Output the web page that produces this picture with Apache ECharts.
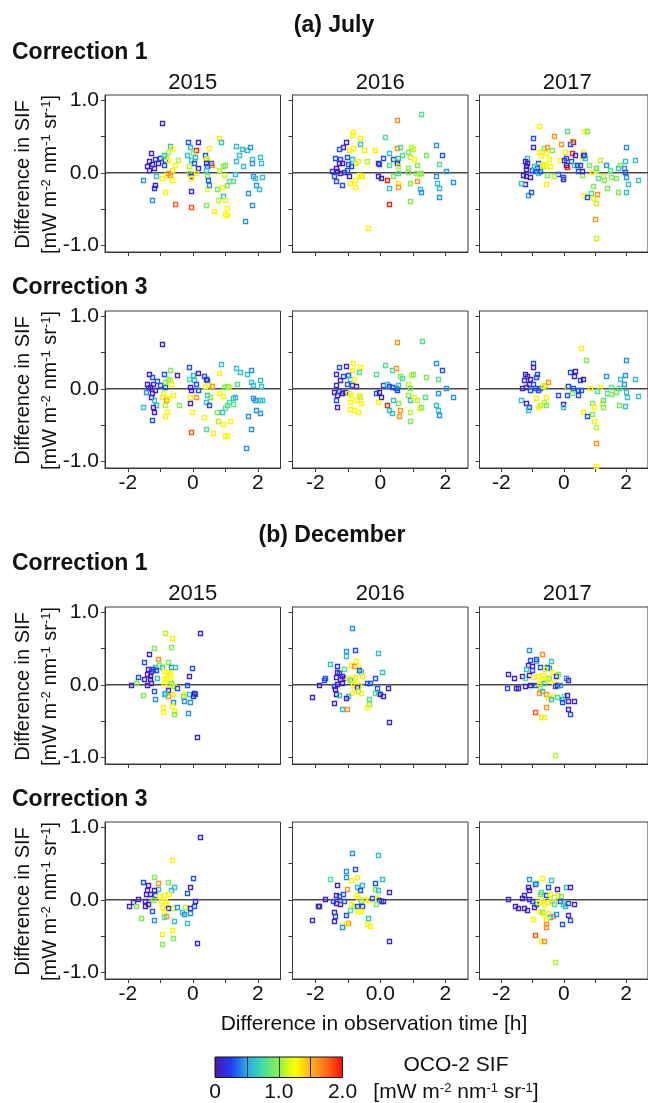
<!DOCTYPE html>
<html>
<head>
<meta charset="utf-8">
<script src="https://cdn.jsdelivr.net/npm/echarts@6/dist/echarts.min.js"></script>
<style>
  html, body { margin: 0; padding: 0; background: #fff; }
  #chart { width: 648px; height: 1103px; }
</style>
</head>
<body>
<div id="chart"></div>
<script>
// ---- labels and axis settings ----
const months = ['(a) July', '(b) December'];
const corrections = ['Correction 1', 'Correction 3'];
const years = ['2015', '2016', '2017'];
const xRange = [-2.7, 2.7];
const yRange = [-1.09, 1.07];
const xTickValues = [-2, -1, 0, 1, 2];
const xLabelValues = [-2, 0, 2];
const xTickLabels = ['-2', '0', '2'];
const xTickLabelsDecC3_2016 = ['-2', '0.0', '2'];
const yTickValues = [-1, -0.5, 0, 0.5, 1];
const yLabelValues = [-1, 0, 1];
const sifRange = [0, 2];
const sifColors = ['#5414ac', '#1e3cf0', '#28a8e6', '#40dcaa', '#90f040', '#ffff00', '#ffb020', '#ff6a18', '#ff0a00'];
const yTitle = 'Difference in SIF\n[mW m{s|-2} nm{s|-1} sr{s|-1}]';
const xTitle = 'Difference in observation time [h]';
const cbarTitle = 'OCO-2 SIF';
const cbarUnit = '[mW m{s|-2} nm{s|-1} sr{s|-1}]';

// ---- points: [time difference (h), SIF difference, OCO-2 SIF] ----
const julyC1_2015 = [[-0.94,0.69,0.08],[-1.29,0.27,0.08],[-1.34,0.16,0.08],[-1.41,0.09,0.08],[-1.25,0.12,0.08],[-1.16,0.19,0.18],[-1.06,0.13,0.08],[-1.19,0.06,0.08],[-1.36,0.04,0.08],[-1.0,0.20,0.3],[-0.88,0.11,0.3],[-0.84,0.18,0.3],[-1.54,-0.10,0.45],[-1.16,-0.17,0.08],[-1.19,-0.21,0.18],[-1.25,-0.37,0.45],[-1.13,-0.05,0.62],[-0.71,0.37,0.62],[-0.76,0.29,1.1],[-0.65,0.34,1.28],[-0.81,0.22,1.1],[-0.88,0.25,0.62],[-0.75,0.18,1.28],[-0.56,0.11,1.28],[-0.44,0.18,1.1],[-0.63,0.04,1.28],[-0.81,-0.03,1.28],[-0.75,0.0,1.6],[-0.69,-0.03,1.6],[-0.96,-0.07,1.28],[-0.63,-0.10,1.28],[-0.84,-0.26,1.28],[-0.54,-0.43,1.8],[-0.16,0.43,0.3],[0.16,0.42,0.08],[-0.09,0.36,0.62],[0.10,0.32,1.95],[0.0,0.27,0.95],[-0.19,0.25,0.62],[0.06,0.22,0.62],[-0.04,0.18,0.62],[0.04,0.13,0.3],[0.16,0.06,0.18],[-0.13,0.09,1.1],[-0.13,0.0,0.95],[-0.04,-0.05,0.08],[-0.06,-0.07,1.28],[-0.06,-0.25,0.18],[-0.04,-0.47,1.8],[0.11,0.0,1.28],[0.38,0.25,0.3],[0.41,0.20,0.95],[0.44,0.19,1.28],[0.5,0.34,1.28],[0.41,0.13,0.08],[0.56,0.13,0.3],[0.59,0.11,1.6],[0.44,0.09,0.3],[0.41,0.04,0.62],[0.44,-0.05,0.95],[0.44,-0.22,1.28],[0.5,-0.17,0.45],[0.46,-0.10,0.3],[0.4,-0.45,0.95],[0.65,-0.52,1.28],[0.81,0.48,1.28],[0.88,0.43,0.62],[1.0,0.11,0.95],[0.94,0.09,0.95],[0.81,0.04,1.1],[0.96,-0.03,1.1],[0.91,-0.19,1.28],[1.04,-0.17,0.95],[0.75,-0.23,0.95],[0.94,-0.32,0.62],[0.78,-0.37,1.1],[0.98,-0.38,1.28],[1.06,-0.49,1.28],[1.0,-0.57,1.28],[1.06,-0.58,1.28],[1.1,-0.12,0.8],[1.25,-0.12,0.8],[1.34,0.37,0.62],[1.34,0.16,0.62],[1.29,-0.01,0.62],[1.5,0.33,0.62],[1.56,0.09,0.62],[1.66,0.31,0.62],[1.76,0.36,0.45],[1.81,0.19,0.62],[1.84,-0.05,0.45],[1.91,-0.07,0.62],[1.69,-0.28,0.45],[1.81,-0.45,0.45],[1.61,-0.66,0.45],[1.81,0.13,0.45],[1.94,-0.17,0.45],[2.06,0.22,0.62],[2.09,0.13,0.62],[2.04,-0.22,0.62],[2.13,-0.06,0.62],[1.41,0.25,0.62]];
const julyC1_2016 = [[1.26,0.81,0.8],[0.5,0.72,1.6],[-0.85,0.56,1.28],[-0.87,0.52,1.28],[-0.62,0.48,1.28],[-1.06,0.42,0.08],[-1.15,0.36,0.08],[-0.62,0.39,0.62],[0.51,0.34,1.6],[0.15,0.49,0.8],[0.6,0.36,0.8],[0.96,0.36,1.1],[1.01,0.33,1.1],[1.71,0.38,0.45],[-1.28,0.33,0.3],[-0.96,0.32,1.28],[-0.83,0.34,1.28],[-0.49,0.32,1.28],[-0.17,0.32,1.28],[1.41,0.24,0.95],[1.91,0.24,0.3],[0.28,0.27,0.62],[0.67,0.25,0.8],[0.86,0.29,0.95],[0.92,0.22,1.1],[1.05,0.19,1.28],[0.09,0.21,0.3],[0.38,0.19,0.3],[0.54,0.20,0.62],[0.47,0.16,0.95],[0.51,0.14,0.08],[-0.08,0.13,0.08],[-0.04,0.12,0.3],[0.28,0.11,0.8],[0.56,0.09,1.1],[0.86,0.06,0.95],[1.13,0.11,0.95],[1.81,0.12,0.8],[2.03,0.03,0.45],[-1.38,0.20,0.3],[-1.23,0.19,0.3],[-1.03,0.22,0.3],[-0.87,0.19,0.62],[-0.78,0.14,1.1],[-0.68,0.16,1.28],[-0.42,0.16,1.1],[-1.28,0.13,0.08],[-1.18,0.14,0.08],[-1.0,0.12,0.3],[-0.9,0.09,0.3],[-1.36,0.06,0.08],[-1.49,0.03,0.08],[-1.32,0.02,0.08],[-1.23,-0.005,0.08],[-1.13,0.005,0.18],[-1.03,0.04,0.3],[-1.41,-0.05,0.3],[-1.36,-0.12,0.3],[-1.19,-0.17,0.3],[-0.97,-0.05,0.08],[-0.79,-0.10,1.28],[-0.64,-0.03,1.28],[-0.59,-0.05,1.1],[-0.94,-0.14,1.28],[-0.77,-0.19,1.28],[-0.55,-0.05,1.28],[-0.08,-0.04,0.08],[0.03,-0.07,0.08],[0.22,-0.10,1.95],[0.38,-0.04,0.95],[0.54,-0.005,0.8],[0.86,0.005,0.95],[1.09,-0.005,0.95],[1.18,-0.01,1.1],[1.24,-0.005,0.95],[0.28,-0.21,0.62],[0.54,-0.14,1.28],[0.56,-0.20,1.6],[0.9,-0.14,0.95],[1.12,-0.12,1.6],[1.22,-0.23,0.62],[1.24,-0.26,0.45],[1.76,-0.14,0.62],[1.82,-0.21,0.62],[1.82,-0.33,0.45],[2.24,-0.13,0.45],[0.26,-0.43,1.95],[0.92,-0.39,0.95],[-0.38,-0.76,1.28],[1.73,-0.05,0.45]];
const julyC1_2017 = [[-0.78,0.65,1.28],[-0.99,0.48,0.3],[-0.99,0.36,0.08],[-1.17,0.21,0.62],[-1.24,0.16,0.08],[-1.17,0.13,0.08],[-1.22,0.09,0.08],[-1.2,0.05,0.08],[-1.32,-0.03,0.08],[-1.22,-0.05,0.08],[-1.09,-0.06,0.08],[-1.24,-0.16,0.08],[-1.37,-0.14,0.62],[-1.14,-0.30,0.45],[-1.06,-0.26,0.3],[-1.02,0.04,0.3],[-0.93,0.02,0.3],[-0.86,0.06,0.3],[-0.81,-0.005,0.62],[-0.76,0.03,0.3],[-0.83,0.13,0.3],[-0.96,0.09,0.62],[-0.71,0.11,1.28],[-0.66,0.09,1.1],[-0.61,0.12,1.28],[-0.78,0.29,1.28],[-0.69,0.29,1.28],[-0.62,0.34,0.95],[-0.58,0.27,1.28],[-0.73,0.25,1.28],[-0.53,0.36,1.6],[-0.48,0.19,1.28],[-0.43,0.09,1.28],[-0.55,-0.03,0.95],[-0.58,-0.16,1.28],[-0.37,0.32,0.95],[-0.30,0.51,1.6],[0.11,0.57,0.8],[-0.09,0.40,1.6],[0.2,0.39,0.3],[0.3,0.42,0.08],[0.28,0.44,1.6],[0.03,0.28,1.28],[-0.11,0.17,1.28],[0.0,0.17,0.08],[0.06,0.2,0.3],[0.11,0.08,1.95],[0.08,0.11,0.08],[0.22,0.16,0.3],[0.32,0.11,0.62],[0.28,0.27,1.95],[0.37,0.25,0.08],[0.42,0.11,0.3],[0.52,0.11,0.3],[0.57,0.22,1.28],[0.61,0.29,1.28],[0.65,0.25,0.08],[0.68,0.2,0.62],[0.63,0.25,0.3],[0.65,0.58,1.28],[0.73,0.57,0.95],[-0.17,-0.01,0.3],[-0.02,-0.09,0.08],[-0.02,-0.06,0.3],[-0.32,-0.04,1.1],[0.45,0.03,0.3],[0.6,-0.03,0.95],[0.59,0.02,0.08],[0.81,0.11,0.95],[0.91,0.01,1.28],[1.02,0.04,1.28],[1.04,0.07,0.8],[1.17,0.17,1.1],[1.09,-0.07,0.8],[1.26,-0.04,1.1],[1.29,-0.10,0.95],[1.34,0.11,0.45],[1.47,0.04,0.8],[1.52,-0.06,0.95],[1.66,-0.07,0.95],[1.75,0.06,0.62],[1.81,0.11,0.95],[1.96,0.16,0.62],[1.94,0.07,0.45],[1.96,0.005,0.3],[2.01,-0.06,0.45],[2.06,-0.15,0.62],[2.01,0.35,0.45],[2.27,0.18,0.62],[2.39,-0.10,0.62],[0.93,-0.18,0.95],[0.87,-0.28,0.8],[0.66,-0.30,1.28],[0.75,-0.33,0.3],[0.95,-0.35,1.28],[1.07,-0.29,1.6],[1.02,-0.42,1.1],[1.01,-0.63,1.6],[1.02,-0.90,1.1],[1.39,-0.21,0.95],[1.74,-0.26,0.95],[1.98,-0.26,0.62]];
const julyC3_2015 = [[-0.94,0.61,0.08],[-1.34,0.20,0.08],[-1.24,0.16,0.3],[-1.41,0.07,0.08],[-1.31,0.03,0.08],[-1.21,0.06,0.08],[-1.38,0.005,0.08],[-1.16,-0.02,0.08],[-1.25,-0.06,0.08],[-1.44,-0.04,0.45],[-1.09,0.11,0.3],[-1.0,0.05,0.3],[-0.9,0.21,0.3],[-0.85,0.02,0.3],[-1.29,-0.11,0.08],[-1.19,-0.16,0.62],[-1.13,-0.22,0.62],[-1.19,-0.32,0.08],[-1.21,-0.25,0.08],[-1.54,-0.25,0.62],[-1.25,-0.43,0.3],[-0.71,0.26,0.95],[-0.75,0.14,0.95],[-0.69,0.12,1.1],[-0.84,0.10,0.95],[-0.66,0.06,1.28],[-0.5,0.19,0.08],[-0.91,-0.06,1.28],[-0.96,-0.11,1.28],[-0.81,-0.16,1.6],[-0.75,-0.13,1.28],[-0.61,-0.08,1.28],[-0.84,-0.23,1.1],[-0.41,-0.22,0.95],[-0.78,-0.32,1.28],[-0.86,-0.37,1.28],[-0.13,0.30,0.3],[-0.13,0.14,0.8],[0.0,0.19,0.62],[0.04,0.12,0.62],[0.16,0.22,0.08],[0.1,0.07,0.3],[-0.09,0.03,0.08],[-0.04,-0.02,0.08],[0.16,-0.02,0.3],[0.1,-0.12,1.6],[-0.09,-0.11,1.28],[-0.09,-0.19,0.08],[-0.03,-0.32,1.28],[-0.04,-0.59,1.8],[0.35,0.17,0.3],[0.41,0.14,0.08],[0.44,0.12,0.3],[0.38,0.04,1.28],[0.5,0.05,1.28],[0.59,0.04,1.6],[0.44,-0.09,0.62],[0.54,-0.11,0.95],[0.41,-0.18,0.62],[0.5,-0.23,0.3],[0.35,-0.39,1.28],[0.4,-0.56,0.8],[0.63,-0.61,1.28],[0.81,0.22,1.28],[0.88,0.34,0.62],[0.96,0.03,0.95],[1.06,0.04,0.95],[1.1,0.03,1.1],[0.94,-0.10,1.28],[0.81,-0.06,1.28],[0.75,-0.32,0.95],[0.79,-0.45,1.1],[0.94,-0.49,1.28],[0.9,-0.32,0.62],[1.0,-0.26,0.8],[1.04,-0.23,0.8],[1.13,-0.18,0.8],[1.25,-0.21,0.8],[1.31,-0.11,0.62],[1.25,-0.13,0.62],[1.16,-0.45,1.28],[1.0,-0.65,1.28],[1.06,-0.64,1.28],[1.34,0.29,0.62],[1.46,0.23,0.62],[1.66,0.21,0.62],[1.78,0.26,0.45],[1.84,0.05,0.62],[1.79,0.10,0.62],[1.35,0.07,0.8],[1.84,-0.13,0.45],[1.91,-0.16,0.45],[1.69,-0.37,0.45],[1.94,-0.29,0.45],[1.79,-0.55,0.45],[1.63,-0.81,0.45],[2.06,0.12,0.62],[2.09,0.04,0.62],[2.06,-0.16,0.62],[2.13,-0.15,0.62],[2.06,-0.34,0.45]];
const julyC3_2016 = [[0.51,0.65,1.6],[1.27,0.66,0.8],[-0.85,0.36,1.28],[-1.28,0.30,0.3],[-1.06,0.31,0.08],[-0.62,0.30,1.28],[-0.87,0.26,1.28],[-0.64,0.23,0.8],[-0.13,0.20,0.8],[0.15,0.33,0.8],[0.35,0.26,0.8],[0.47,0.28,1.6],[0.6,0.17,0.95],[0.67,0.15,0.8],[0.96,0.19,1.1],[1.01,0.20,0.95],[1.41,0.16,0.95],[1.71,0.36,0.45],[1.91,0.26,0.3],[1.79,0.13,0.8],[2.03,0.005,0.45],[2.24,-0.12,0.45],[1.79,-0.06,0.45],[-1.35,0.20,0.08],[-1.15,0.17,0.3],[-1.0,0.19,0.3],[-0.94,0.14,0.62],[-0.81,0.13,1.28],[-1.23,0.12,0.08],[-1.03,0.07,0.3],[-0.87,0.05,0.3],[-0.74,0.04,0.08],[-1.36,0.05,0.08],[-1.41,-0.04,0.08],[-1.32,-0.09,0.08],[-1.26,-0.03,0.3],[-1.19,-0.06,0.08],[-1.1,-0.04,0.08],[-1.36,-0.16,0.3],[-1.32,-0.25,0.08],[-1.0,-0.06,1.1],[-0.9,-0.09,1.28],[-0.94,-0.18,1.28],[-0.74,-0.16,1.28],[-0.64,-0.09,1.28],[-0.62,-0.11,1.1],[-0.59,-0.20,1.28],[-0.94,-0.28,1.28],[-0.81,-0.29,1.28],[-0.67,-0.32,1.28],[-0.13,-0.06,0.3],[-0.04,-0.04,0.08],[0.03,-0.11,0.08],[-0.08,-0.18,1.28],[0.09,0.05,0.3],[0.22,0.06,0.62],[0.28,0.04,0.3],[0.35,0.03,0.3],[0.47,0.005,0.3],[0.56,0.05,0.62],[0.51,-0.02,0.3],[0.22,-0.22,1.95],[0.28,-0.29,0.62],[0.35,-0.34,0.62],[0.38,-0.15,0.62],[0.56,-0.20,0.95],[0.6,-0.29,1.6],[0.58,-0.38,1.6],[0.86,0.06,1.1],[0.92,0.01,0.95],[0.86,-0.09,0.95],[0.92,-0.16,0.62],[1.05,-0.11,1.28],[1.12,-0.16,1.1],[1.18,-0.27,1.28],[1.24,-0.25,0.95],[0.9,-0.32,1.1],[0.92,-0.44,0.95],[1.37,-0.12,0.8],[1.73,-0.22,0.62],[1.79,-0.29,0.62],[1.82,-0.36,0.45]];
const julyC3_2017 = [[0.55,0.56,1.28],[0.7,0.39,0.95],[-0.99,0.36,0.3],[-0.99,0.30,0.08],[-1.24,0.21,0.08],[-1.17,0.17,0.08],[-1.08,0.14,0.08],[-0.89,0.16,0.3],[-0.87,0.21,0.3],[-1.27,0.12,0.08],[-1.12,0.07,0.08],[-0.98,0.06,0.3],[-1.34,0.005,0.08],[-1.21,0.03,0.08],[-1.08,-0.01,0.3],[-0.92,0.01,0.3],[-0.83,-0.02,0.3],[-0.76,0.005,0.3],[-0.66,0.04,1.28],[-0.61,0.05,1.1],[-1.38,-0.16,0.62],[-1.21,-0.19,0.08],[-1.12,-0.25,0.3],[-1.15,-0.29,0.62],[-0.89,-0.13,1.28],[-0.83,-0.25,1.28],[-0.76,-0.22,1.1],[-0.64,-0.18,1.1],[-0.57,-0.12,1.28],[-0.57,-0.22,0.95],[-0.51,0.10,1.6],[0.1,0.04,1.28],[-0.17,-0.09,0.3],[-0.03,-0.21,0.08],[-0.03,-0.25,0.62],[0.19,0.23,0.3],[0.36,0.24,0.08],[0.32,0.17,0.08],[0.51,0.12,0.3],[0.61,0.14,0.08],[0.15,0.04,0.3],[0.29,0.005,0.3],[0.45,-0.02,0.3],[0.54,-0.02,0.3],[0.1,-0.08,0.3],[0.25,-0.06,0.95],[0.45,-0.09,0.3],[0.61,-0.32,1.28],[0.74,-0.38,0.3],[0.89,-0.20,0.95],[0.98,-0.25,1.28],[0.89,-0.35,0.95],[0.96,-0.45,1.28],[1.04,-0.52,1.1],[1.04,-0.74,1.6],[1.02,-1.06,1.28],[0.83,0.005,1.28],[1.15,0.03,1.28],[1.08,-0.03,0.8],[1.21,-0.20,1.28],[1.27,-0.25,0.95],[1.27,-0.15,0.8],[1.4,-0.06,0.8],[1.53,-0.07,0.95],[1.34,0.17,0.45],[1.5,0.03,0.8],[1.66,-0.04,0.95],[1.78,0.005,0.8],[1.81,0.14,0.62],[1.97,0.19,0.45],[1.94,0.07,0.45],[2.01,-0.04,0.62],[2.04,-0.11,0.62],[2.01,0.39,0.45],[2.27,0.13,0.62],[2.39,-0.10,0.62],[1.76,-0.22,0.95],[1.97,-0.24,0.62]];
const decC1_2015 = [[-0.84,0.71,1.1],[-0.63,0.65,1.28],[0.23,0.71,0.08],[-1.19,0.50,0.95],[-0.66,0.52,0.95],[-1.34,0.42,0.08],[-1.06,0.36,1.6],[-1.5,0.32,0.3],[-0.75,0.31,0.95],[-1.16,0.25,0.62],[-1.03,0.27,0.95],[-0.96,0.24,0.62],[-0.66,0.25,0.45],[-0.56,0.24,0.62],[-1.38,0.22,0.08],[-1.29,0.19,0.08],[-1.21,0.22,0.3],[-1.13,0.21,0.3],[-0.88,0.19,1.28],[-0.75,0.17,1.28],[-0.69,0.15,1.28],[-0.03,0.23,0.3],[-1.41,0.15,0.08],[-1.31,0.12,0.08],[-1.69,0.11,0.3],[-1.5,0.08,0.08],[-1.31,0.08,0.08],[-1.09,0.09,0.62],[-0.9,0.08,1.28],[-0.81,0.10,1.28],[-0.71,0.06,1.28],[-0.13,0.12,0.08],[-1.75,0.03,0.95],[-1.91,-0.005,0.08],[-1.4,-0.005,0.08],[-1.29,0.03,0.08],[-0.88,0.02,1.28],[-0.75,0.0,1.28],[-0.66,0.02,0.95],[-0.59,-0.02,1.1],[-0.19,0.0,0.3],[-0.48,-0.05,0.3],[-0.75,-0.07,0.18],[-0.84,-0.11,0.62],[-0.75,-0.15,1.6],[-1.19,-0.09,0.3],[-1.16,-0.20,0.45],[-1.54,-0.14,0.95],[-0.9,-0.13,0.62],[-0.6,-0.13,1.28],[-0.6,-0.24,0.45],[-0.63,-0.29,1.28],[-0.91,-0.30,1.28],[-0.91,-0.37,1.28],[-0.59,-0.36,1.28],[-0.59,-0.40,0.95],[-0.31,-0.16,0.8],[-0.25,-0.13,1.28],[-0.28,-0.23,0.45],[-0.13,-0.13,0.62],[-0.09,-0.24,0.45],[-0.15,-0.39,0.45],[0.04,-0.11,0.08],[0.06,-0.13,0.3],[0.0,-0.15,0.18],[0.14,-0.72,0.08]];
const decC1_2016 = [[-0.87,0.78,0.45],[-1.05,0.46,0.45],[-1.06,0.39,0.62],[-0.77,0.48,0.3],[-0.08,0.44,0.62],[-0.74,0.33,1.28],[-1.55,0.29,0.62],[-1.32,0.26,0.18],[-0.9,0.27,1.28],[-0.81,0.26,1.6],[-0.68,0.24,1.28],[-1.13,0.22,0.8],[-0.64,0.20,0.3],[-0.59,0.17,0.62],[0.05,0.17,0.62],[-0.55,0.12,1.28],[-1.32,0.17,0.08],[-1.26,0.16,0.3],[-1.19,0.12,0.08],[-1.36,0.11,0.08],[-1.23,0.08,0.08],[-1.13,0.10,0.08],[-1.0,0.09,1.28],[-0.87,0.08,1.28],[-0.77,0.11,1.28],[-0.94,0.06,0.8],[-1.71,0.10,0.3],[-1.73,0.06,0.3],[-1.9,0.0,0.08],[-1.41,-0.01,0.3],[-1.32,0.01,0.08],[-1.19,0.02,0.08],[-0.17,0.09,0.3],[-0.42,0.03,0.3],[-0.33,0.02,0.3],[-0.85,0.01,1.28],[-0.74,0.03,1.28],[-0.64,0.0,1.28],[-0.81,-0.06,1.28],[-0.72,-0.03,0.18],[-0.87,-0.11,1.28],[-0.59,-0.12,1.28],[-0.68,-0.09,1.1],[-1.38,-0.06,0.08],[-1.36,-0.13,0.08],[-1.26,-0.14,0.62],[-1.0,-0.15,0.62],[-1.41,-0.25,0.08],[-1.06,-0.18,0.08],[-2.09,-0.17,0.08],[-0.1,-0.04,0.3],[-0.08,-0.11,0.62],[-0.17,-0.11,0.8],[0.0,-0.13,0.08],[0.09,-0.15,0.08],[0.24,-0.05,0.08],[-0.36,-0.20,0.8],[-0.36,-0.27,0.95],[-0.42,-0.30,1.28],[-1.19,-0.34,0.62],[-1.03,-0.34,1.6],[0.28,-0.51,0.08]];
const decC1_2017 = [[-1.11,0.48,0.45],[-0.89,0.33,0.62],[-0.70,0.43,1.6],[-1.08,0.34,0.3],[-0.89,0.36,0.3],[-0.41,0.33,0.62],[-1.15,0.27,0.08],[-1.02,0.26,0.08],[-1.21,0.22,0.62],[-1.02,0.20,0.3],[-0.76,0.24,0.3],[-0.53,0.25,0.3],[-0.48,0.23,0.45],[-0.61,0.22,1.28],[-0.38,0.17,1.28],[-1.78,0.15,0.08],[-1.59,0.09,0.08],[-1.34,0.12,0.08],[-1.25,0.10,0.8],[-1.12,0.14,0.08],[-0.99,0.11,1.28],[-0.83,0.12,1.28],[-0.66,0.14,1.28],[-0.61,0.09,1.28],[-0.48,0.10,0.95],[-0.25,0.12,0.08],[-0.17,0.15,0.95],[0.06,0.09,0.45],[0.15,0.07,0.08],[-1.08,0.0,0.08],[-0.92,0.0,0.3],[-1.25,-0.01,0.08],[-1.46,-0.04,0.08],[-1.53,-0.05,0.08],[-1.81,-0.05,0.3],[-0.79,0.03,1.28],[-0.7,0.06,1.28],[-0.64,0.02,0.62],[-0.51,0.06,1.28],[-0.32,0.02,1.28],[-0.28,-0.01,0.3],[-0.23,0.0,0.08],[-0.13,-0.005,0.45],[-0.76,-0.05,0.95],[-0.70,-0.08,0.62],[-0.79,-0.12,1.6],[-0.57,-0.13,1.6],[-0.51,-0.17,1.28],[-0.36,-0.15,1.28],[-0.23,-0.17,0.8],[-0.42,-0.20,0.62],[-0.06,-0.20,0.45],[0.0,-0.15,0.8],[0.1,-0.14,0.08],[-0.06,-0.24,0.3],[0.13,-0.22,0.08],[0.34,-0.22,0.08],[0.15,-0.34,0.08],[0.19,-0.40,0.3],[-0.57,-0.31,1.6],[-0.92,-0.37,1.8],[-0.74,-0.44,1.28],[-0.64,-0.44,1.28],[-0.28,-0.97,1.1]];
const decC3_2015 = [[0.23,0.86,0.08],[-0.64,0.55,1.28],[-1.19,0.32,0.95],[-0.77,0.24,0.95],[-1.54,0.24,0.3],[-1.06,0.23,1.6],[-1.38,0.21,0.08],[0.0,0.30,0.3],[-0.09,0.17,0.08],[-0.19,0.09,0.3],[-0.58,0.17,0.62],[-0.67,0.14,0.62],[-1.06,0.15,0.62],[-1.19,0.14,0.08],[-1.41,0.13,0.08],[-1.45,0.08,0.08],[-1.32,0.08,0.08],[-1.15,0.06,0.3],[-1.03,0.05,1.28],[-0.9,0.06,1.28],[-0.73,0.08,1.28],[-1.69,0.01,0.08],[-1.83,-0.03,0.08],[-1.96,-0.09,0.08],[-1.76,-0.09,0.95],[-1.47,-0.01,0.08],[-1.37,-0.06,0.08],[-1.47,-0.08,0.08],[-1.22,0.0,0.95],[-0.99,-0.01,1.28],[-0.86,-0.01,1.28],[-0.81,-0.06,1.28],[-0.96,-0.10,1.28],[-0.77,-0.12,0.08],[-0.9,-0.17,1.28],[-0.83,-0.22,1.6],[-0.9,-0.24,0.8],[-1.24,-0.15,0.3],[-1.19,-0.28,0.45],[-1.58,-0.25,0.95],[-0.6,-0.12,1.1],[-0.58,-0.29,0.62],[-0.47,-0.10,0.45],[-0.32,-0.17,0.62],[-0.28,-0.19,0.45],[-0.23,-0.10,1.1],[-0.09,-0.12,0.08],[0.04,-0.08,0.3],[0.06,-0.01,0.08],[-0.09,-0.18,0.45],[-0.17,-0.32,0.62],[-0.94,-0.47,1.28],[-0.64,-0.42,1.28],[-0.6,-0.53,0.95],[-0.94,-0.61,0.95],[0.14,-0.59,0.08]];
const decC3_2016 = [[-0.87,0.64,0.45],[-0.08,0.62,0.62],[-0.77,0.43,0.3],[-1.06,0.39,0.45],[-1.04,0.32,0.45],[-0.71,0.31,1.28],[-1.55,0.28,0.8],[-0.9,0.27,1.28],[0.06,0.29,0.62],[-0.17,0.23,0.3],[-0.55,0.20,0.62],[-1.32,0.20,0.08],[-1.03,0.15,1.6],[-0.72,0.17,0.62],[-0.62,0.14,0.3],[-0.17,0.15,0.95],[-0.08,0.14,0.62],[0.26,0.11,0.08],[-1.36,0.06,0.08],[-1.26,0.05,0.3],[-1.15,0.08,0.3],[-1.71,0.01,0.08],[-1.45,-0.01,0.3],[-1.36,-0.05,0.08],[-1.23,-0.06,0.08],[-1.13,-0.02,0.3],[-0.74,0.06,1.28],[-0.67,0.03,1.28],[-0.59,-0.01,0.8],[-0.49,0.01,1.28],[-0.36,0.0,1.28],[-0.26,0.03,0.3],[-0.1,0.03,1.28],[-0.04,0.0,0.08],[0.03,-0.01,0.3],[0.09,-0.02,0.08],[-0.13,-0.06,0.95],[-0.9,-0.06,1.28],[-0.81,-0.09,1.1],[-0.71,-0.08,0.3],[-0.55,-0.09,0.3],[-0.94,-0.14,0.8],[-0.68,-0.16,1.28],[-0.59,-0.16,1.28],[-1.92,-0.08,0.08],[-1.9,-0.09,0.08],[-2.09,-0.28,0.08],[-1.41,-0.17,0.08],[-1.38,-0.23,0.3],[-1.41,-0.29,0.08],[-1.06,-0.21,0.3],[-1.0,-0.32,1.6],[-1.06,-0.34,1.28],[-1.19,-0.38,0.45],[-0.38,-0.25,0.62],[-0.42,-0.34,1.28],[-0.33,-0.36,1.28],[0.28,-0.57,0.08]];
const decC3_2017 = [[-0.7,0.30,1.28],[-1.12,0.28,0.45],[-0.92,0.22,0.3],[-0.9,0.23,0.62],[-0.42,0.27,0.62],[-0.51,0.18,0.3],[-0.23,0.15,0.08],[0.06,0.18,0.62],[0.19,0.18,0.08],[-1.15,0.17,0.08],[-1.12,0.13,0.08],[-0.76,0.08,0.95],[-0.73,0.11,0.8],[-0.58,0.06,0.3],[-0.45,0.08,1.28],[-0.32,0.04,1.1],[-0.19,0.07,1.28],[-0.1,0.05,0.95],[-1.26,0.06,0.08],[-1.35,0.03,0.08],[-1.79,0.01,0.08],[-1.56,-0.08,0.08],[-1.47,-0.12,0.08],[-1.26,-0.11,0.08],[-1.18,-0.14,0.08],[-1.12,0.01,0.08],[-1.03,-0.01,0.3],[-0.96,-0.10,0.08],[-0.9,-0.06,0.3],[-0.83,-0.03,1.28],[-0.7,-0.01,1.28],[-0.64,-0.06,1.28],[-0.51,-0.03,1.28],[-0.41,-0.01,1.1],[-0.32,-0.06,0.8],[-0.13,-0.01,0.3],[-0.03,-0.06,0.62],[0.03,-0.08,0.62],[0.13,-0.05,0.3],[0.32,-0.06,0.08],[-0.79,-0.15,1.28],[-0.7,-0.17,0.95],[-0.62,-0.19,1.28],[-0.51,-0.18,1.28],[-0.36,-0.22,1.6],[-0.45,-0.24,0.62],[-0.26,-0.20,0.45],[-0.99,-0.26,1.28],[-0.58,-0.28,1.28],[-0.58,-0.33,1.6],[-0.58,-0.38,1.6],[-0.06,-0.34,0.3],[0.15,-0.21,0.08],[0.19,-0.28,0.3],[-0.92,-0.49,1.8],[-0.73,-0.57,1.28],[-0.64,-0.57,1.6],[-0.28,-0.85,1.1]];

// rows of panels, top to bottom
const panelRows = [
  [julyC1_2015, julyC1_2016, julyC1_2017],
  [julyC3_2015, julyC3_2016, julyC3_2017],
  [decC1_2015, decC1_2016, decC1_2017],
  [decC3_2015, decC3_2016, decC3_2017]
];

// ---- layout ----
const FONT = '"Liberation Sans", Arial, Helvetica, sans-serif';
const colLeft = [105, 292.5, 479.5];
const plotW = 175.5;
const rowTop = [95, 311, 607, 822];
const plotH = 157;
const frameColor = '#3a3a3a';

const chart = echarts.init(document.getElementById('chart'), null, { renderer: 'canvas' });

// hollow square marker, coloured by the visual map
function renderSquare(params, api) {
  const p = api.coord([api.value(0), api.value(1)]);
  const s = 4;
  return {
    type: 'rect',
    shape: { x: Math.round(p[0] - s / 2) + 0.5, y: Math.round(p[1] - s / 2) + 0.5, width: s, height: s },
    style: { fill: 'none', stroke: api.visual('color'), lineWidth: 1.35 }
  };
}

const grid = [], xAxis = [], yAxis = [], series = [], pointSeries = [];

panelRows.forEach((row, r) => {
  row.forEach((points, c) => {
    const i = r * 3 + c;
    const labels = (r === 3 && c === 1) ? xTickLabelsDecC3_2016 : xTickLabels;
    grid.push({
      left: colLeft[c], top: rowTop[r], width: plotW, height: plotH,
      show: true, borderColor: frameColor, borderWidth: 1, backgroundColor: 'transparent'
    });
    xAxis.push({
      gridIndex: i, type: 'value', min: xRange[0], max: xRange[1],
      axisLine: { show: true, onZero: false, lineStyle: { color: frameColor, width: 1 } },
      axisTick: { show: true, length: 4, customValues: xTickValues, lineStyle: { color: frameColor } },
      axisLabel: {
        show: r % 2 === 1, customValues: xLabelValues,
        formatter: v => labels[xLabelValues.indexOf(v)],
        fontSize: 21, fontFamily: FONT, color: '#111', margin: 5
      },
      splitLine: { show: false }
    });
    yAxis.push({
      gridIndex: i, type: 'value', min: yRange[0], max: yRange[1],
      axisLine: { show: true, onZero: false, lineStyle: { color: frameColor, width: 1 } },
      axisTick: { show: true, length: 4, customValues: yTickValues, lineStyle: { color: frameColor } },
      axisLabel: {
        show: c === 0, customValues: yLabelValues,
        formatter: v => v.toFixed(1),
        fontSize: 21, fontFamily: FONT, color: '#111', margin: 6
      },
      splitLine: { show: false }
    });
    // zero reference line
    series.push({
      type: 'line', xAxisIndex: i, yAxisIndex: i, silent: true, symbol: 'none', z: 1,
      data: [[xRange[0], 0], [xRange[1], 0]],
      lineStyle: { color: '#4a4a4a', width: 1.6 }
    });
    pointSeries.push(series.length);
    series.push({
      type: 'custom', xAxisIndex: i, yAxisIndex: i, z: 2,
      data: points, renderItem: renderSquare,
      encode: { x: 0, y: 1 }
    });
  });
});

// colour bar as its own small cartesian grid
const cbIndex = grid.length;
grid.push({
  left: 215, top: 1057, width: 127.5, height: 20.5, show: true,
  borderColor: '#111', borderWidth: 1,
  backgroundColor: {
    type: 'linear', x: 0, y: 0, x2: 1, y2: 0,
    colorStops: sifColors.map((col, k) => ({ offset: k / (sifColors.length - 1), color: col }))
  }
});
xAxis.push({
  gridIndex: cbIndex, type: 'value', min: sifRange[0], max: sifRange[1], interval: 0.5,
  axisLine: { show: false }, axisTick: { show: false },
  splitLine: { show: true, lineStyle: { color: '#222', width: 1 } },
  axisLabel: {
    formatter: v => (v === 0 ? '0' : (v % 1 === 0 ? v.toFixed(1) : '')),
    fontSize: 21, fontFamily: FONT, color: '#111', margin: 4
  }
});
yAxis.push({ gridIndex: cbIndex, type: 'value', min: 0, max: 1, show: false });

// ---- text ----
function txt(text, x, y, size, bold, extra) {
  return Object.assign({
    type: 'text', x: x, y: y, silent: true,
    style: {
      text: text, font: (bold ? 'bold ' : '') + size + 'px ' + FONT, fill: '#111',
      align: 'center', verticalAlign: 'middle', textAlign: 'center', textVerticalAlign: 'middle'
    }
  }, extra || {});
}
const supRich = { s: { fontSize: 13, fontFamily: FONT, fill: '#111', verticalAlign: 'top', lineHeight: 13, padding: [3, 0, 0, 0] } };

const graphic = [];
graphic.push(txt(months[0], 334, 26, 23, true));
graphic.push(txt(months[1], 332, 536, 23, true));
[[53, 0], [288, 1], [564, 0], [800, 1]].forEach(([y, k]) => {
  const t = txt(corrections[k], 12, y, 23, true);
  t.style.align = t.style.textAlign = 'left';
  graphic.push(t);
});
[83, 594].forEach(y => years.forEach((yr, c) => graphic.push(txt(yr, colLeft[c] + plotW / 2, y, 22, false))));
rowTop.forEach(top => {
  const t = txt(yTitle, 37, top + plotH / 2 + 1, 20, false, { rotation: Math.PI / 2 });
  t.style.lineHeight = 27;
  t.style.rich = supRich;
  graphic.push(t);
});
graphic.push(txt(xTitle, 374, 1024, 21, false));
graphic.push(txt(cbarTitle, 456, 1065, 21, false));
const unit = txt(cbarUnit, 456, 1092, 21, false);
unit.style.lineHeight = 22;
unit.style.rich = { s: Object.assign({}, supRich.s, { padding: [1, 0, 0, 0] }) };
graphic.push(unit);

chart.setOption({
  animation: false,
  backgroundColor: '#fff',
  grid: grid,
  xAxis: xAxis,
  yAxis: yAxis,
  visualMap: {
    type: 'continuous', show: false, min: sifRange[0], max: sifRange[1],
    dimension: 2, seriesIndex: pointSeries,
    inRange: { color: sifColors }
  },
  series: series,
  graphic: graphic
});
</script>
</body>
</html>
